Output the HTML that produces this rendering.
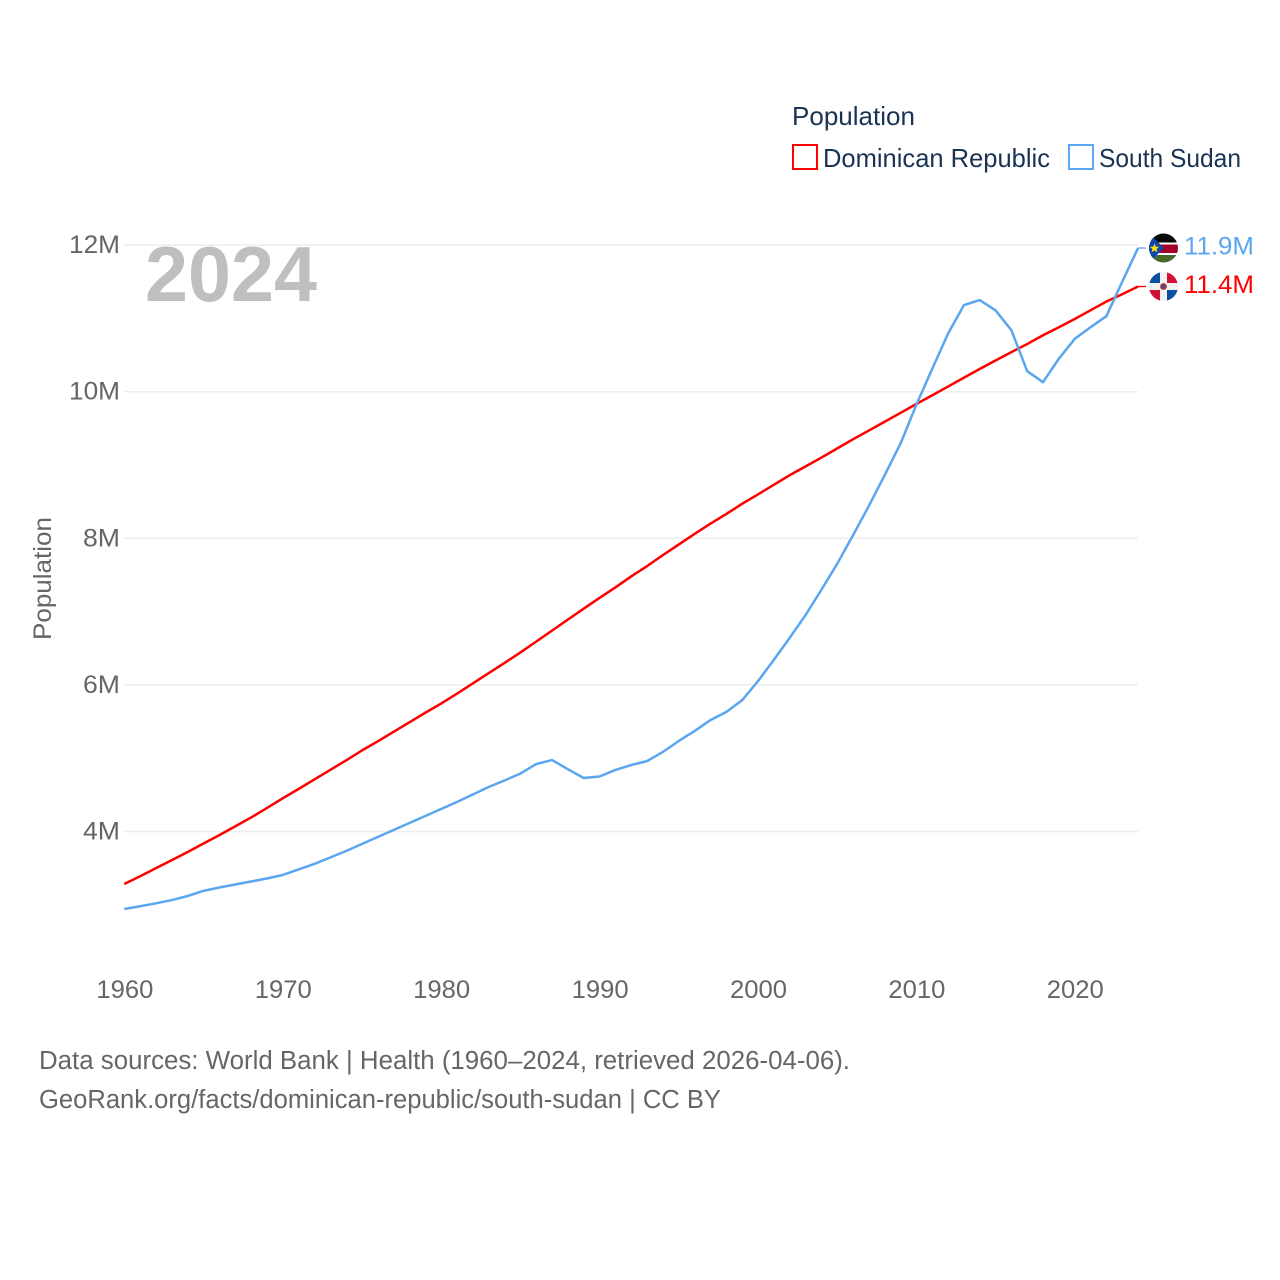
<!DOCTYPE html>
<html lang="en">
<head>
<meta charset="utf-8">
<title>Population: Dominican Republic vs South Sudan</title>
<style>
html,body{margin:0;padding:0;background:#fff;}
svg{display:block;}
text{font-family:"Liberation Sans",sans-serif;}
</style>
</head>
<body>
<svg id="chart" xmlns="http://www.w3.org/2000/svg" width="1280" height="1280" viewBox="0 0 1280 1280">
  <rect x="0" y="0" width="1280" height="1280" fill="#fff"/>
  <defs>
    <clipPath id="flag-clip-ss"><circle cx="1163.5" cy="248" r="14.5"/></clipPath>
    <clipPath id="flag-clip-do"><circle cx="1163.5" cy="286.5" r="14.5"/></clipPath>
  </defs>
  <g id="grid"></g>
  <g id="yticks"></g>
  <g id="xticks"></g>
  <text x="145" y="301" font-size="78" font-weight="700" fill="#bfbfbf" textLength="172" lengthAdjust="spacingAndGlyphs">2024</text>
  <text transform="translate(51,640) rotate(-90)" font-size="25" fill="#666" textLength="123" lengthAdjust="spacingAndGlyphs">Population</text>
  <g id="series"></g>

  <g>
    <text x="792" y="125" font-size="26" fill="#1a3353" textLength="123" lengthAdjust="spacingAndGlyphs">Population</text>
    <rect x="793" y="145" width="24" height="24" fill="none" stroke="#ff0000" stroke-width="2"/>
    <text x="823" y="167" font-size="26" fill="#1a3353" textLength="227" lengthAdjust="spacingAndGlyphs">Dominican Republic</text>
    <rect x="1069" y="145" width="24" height="24" fill="none" stroke="#5ba6f0" stroke-width="2"/>
    <text x="1099" y="167" font-size="26" fill="#1a3353" textLength="142" lengthAdjust="spacingAndGlyphs">South Sudan</text>
  </g>

  <g clip-path="url(#flag-clip-ss)">
    <rect x="1149" y="233" width="30" height="9.6" fill="#0a0a0a"/>
    <rect x="1149" y="242.6" width="30" height="1.9" fill="#fff"/>
    <rect x="1149" y="244.5" width="30" height="8.5" fill="#a5002a"/>
    <rect x="1149" y="253" width="30" height="2" fill="#fff"/>
    <rect x="1149" y="255" width="30" height="8.5" fill="#446a2c"/>
    <polygon points="1149,233.5 1164,248 1149,262.5" fill="#0f47af"/>
    <polygon points="1154.5,243.5 1155.8,246.6 1159,246.9 1156.6,249 1157.3,252.2 1154.5,250.5 1151.7,252.2 1152.4,249 1150,246.9 1153.2,246.6" fill="#fcdd09"/>
  </g>
  <g clip-path="url(#flag-clip-do)">
    <rect x="1149" y="272" width="30" height="30" fill="#f2f2f2"/>
    <rect x="1149" y="272" width="11" height="11" fill="#0b4ea2"/>
    <rect x="1167" y="272" width="12" height="11" fill="#d21034"/>
    <rect x="1149" y="290" width="11" height="12" fill="#d21034"/>
    <rect x="1167" y="290" width="12" height="12" fill="#0b4ea2"/>
    <circle cx="1163.5" cy="286.5" r="3.4" fill="#a8324a"/>
    <circle cx="1163.5" cy="286.5" r="1.5" fill="#2d5a7a"/>
  </g>
  <text x="1184" y="254.5" font-size="25" fill="#5ba6f0" textLength="70" lengthAdjust="spacingAndGlyphs">11.9M</text>
  <text x="1184" y="293" font-size="25" fill="#ff0000" textLength="70" lengthAdjust="spacingAndGlyphs">11.4M</text>

  <text x="39" y="1069" font-size="25.5" fill="#666" textLength="811" lengthAdjust="spacingAndGlyphs">Data sources: World Bank | Health (1960–2024, retrieved 2026-04-06).</text>
  <text x="39" y="1108" font-size="25.5" fill="#666" textLength="682" lengthAdjust="spacingAndGlyphs">GeoRank.org/facts/dominican-republic/south-sudan | CC BY</text>
</svg>
<script>
const startYear = 1960;
const yTickValues = [4, 6, 8, 10, 12];
const yTickLabels = ["4M", "6M", "8M", "10M", "12M"];
const xTickYears = [1960, 1970, 1980, 1990, 2000, 2010, 2020];
const dominicanRepublic = [
  3.284, 3.39, 3.50, 3.61, 3.72, 3.836, 3.95, 4.07, 4.19, 4.32,
  4.452, 4.58, 4.71, 4.84, 4.97, 5.105, 5.23, 5.36, 5.49, 5.62,
  5.746, 5.88, 6.02, 6.16, 6.30, 6.441, 6.59, 6.74, 6.89, 7.04,
  7.186, 7.33, 7.48, 7.62, 7.77, 7.915, 8.06, 8.20, 8.33, 8.47,
  8.598, 8.73, 8.86, 8.98, 9.10, 9.225, 9.35, 9.47, 9.59, 9.71,
  9.832, 9.95, 10.07, 10.19, 10.31, 10.426, 10.54, 10.65, 10.77, 10.88,
  10.992, 11.11, 11.23, 11.33, 11.435
];
const southSudan = [
  2.943, 2.98, 3.02, 3.065, 3.12, 3.19, 3.236, 3.277, 3.318, 3.359,
  3.407, 3.482, 3.557, 3.645, 3.734, 3.829, 3.925, 4.02, 4.116, 4.211,
  4.307, 4.402, 4.505, 4.607, 4.696, 4.79, 4.92, 4.975, 4.85, 4.73,
  4.75, 4.84, 4.907, 4.96, 5.085, 5.235, 5.37, 5.52, 5.63, 5.79,
  6.05, 6.34, 6.64, 6.95, 7.295, 7.65, 8.04, 8.44, 8.86, 9.29,
  9.82, 10.31, 10.79, 11.18, 11.25, 11.11, 10.84, 10.28, 10.13, 10.45,
  10.72, 10.88, 11.03, 11.5, 11.96
];

function xScale(year) { return 124.3 + (year - 1960) * 15.84; }
function yScale(value) { return 831.5 - (value - 4) * 73.3; }

const NS = "http://www.w3.org/2000/svg";
const gridGroup = document.getElementById("grid");
const yGroup = document.getElementById("yticks");
const xGroup = document.getElementById("xticks");
const seriesGroup = document.getElementById("series");

yTickValues.forEach(function (value, i) {
  const line = document.createElementNS(NS, "line");
  
  
  line.setAttribute("x1", 124);
  line.setAttribute("x2", 1138);
  line.setAttribute("y1", yScale(value));
  line.setAttribute("y2", yScale(value));
  line.setAttribute("stroke", "#eeeeee");
  line.setAttribute("stroke-width", "1.5");
  gridGroup.appendChild(line);

  const label = document.createElementNS(NS, "text");
  
  
  label.setAttribute("x", 120);
  label.setAttribute("y", yScale(value) + 8);
  label.setAttribute("text-anchor", "end");
  label.setAttribute("font-size", "25");
  label.setAttribute("fill", "#666");
  label.setAttribute("textLength", yTickLabels[i].length === 3 ? 51 : 37);
  label.setAttribute("lengthAdjust", "spacingAndGlyphs");
  label.textContent = yTickLabels[i];
  yGroup.appendChild(label);
});

xTickYears.forEach(function (year) {
  const label = document.createElementNS(NS, "text");
  
  
  label.setAttribute("x", xScale(year) + 0.6);
  label.setAttribute("y", 998);
  label.setAttribute("text-anchor", "middle");
  label.setAttribute("font-size", "25");
  label.setAttribute("fill", "#666");
  label.setAttribute("textLength", 57);
  label.setAttribute("lengthAdjust", "spacingAndGlyphs");
  label.textContent = String(year);
  xGroup.appendChild(label);
});

function linePath(values) {
  return values.map(function (v, i) {
    return (i ? "L" : "M") + xScale(startYear + i).toFixed(2) + " " + yScale(v).toFixed(2);
  }).join(" ");
}

function connector(values, color) {
  const y = yScale(values[values.length - 1]);
  const x = xScale(startYear + values.length - 1);
  const seg = document.createElementNS(NS, "line");
  
  
  seg.setAttribute("x1", x);
  seg.setAttribute("x2", x + 8);
  seg.setAttribute("y1", y);
  seg.setAttribute("y2", y);
  seg.setAttribute("stroke", color);
  seg.setAttribute("stroke-width", "1.3");
  seriesGroup.appendChild(seg);
}

const redLine = document.createElementNS(NS, "path");


redLine.setAttribute("d", linePath(dominicanRepublic));
redLine.setAttribute("fill", "none");
redLine.setAttribute("stroke", "#ff0000");
redLine.setAttribute("stroke-width", "2.5");
redLine.setAttribute("stroke-linejoin", "round");
seriesGroup.appendChild(redLine);

const blueLine = document.createElementNS(NS, "path");


blueLine.setAttribute("d", linePath(southSudan));
blueLine.setAttribute("fill", "none");
blueLine.setAttribute("stroke", "#5ba6f0");
blueLine.setAttribute("stroke-width", "2.5");
blueLine.setAttribute("stroke-linejoin", "round");
seriesGroup.appendChild(blueLine);

connector(dominicanRepublic, "#ff0000");
connector(southSudan, "#5ba6f0");
</script>
</body>
</html>
